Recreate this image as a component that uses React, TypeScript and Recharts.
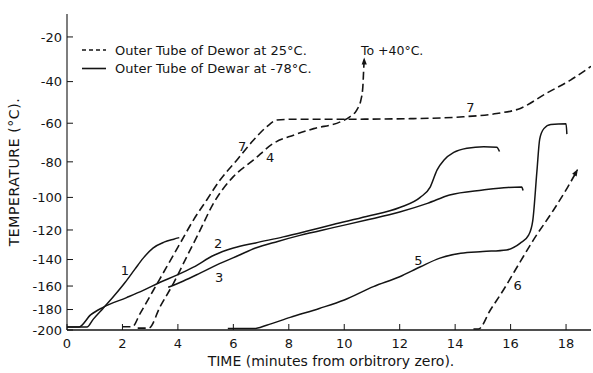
import React from 'react';
import { LineChart, Line, XAxis, YAxis, ReferenceDot } from 'recharts';

type Pt = [number, number];

// [time (min), temperature (°C)]
const curve1: Pt[] = [[0, -197], [0.72, -197], [0.95, -189], [1.3, -179], [1.7, -168], [2.1, -157], [2.45, -147], [2.75, -139], [3.1, -132], [3.5, -128], [3.85, -126], [4.05, -125]];
const curve2: Pt[] = [[0, -197], [0.42, -197], [0.85, -185], [1.3, -178], [2.15, -169.5], [2.75, -163.5], [3.36, -157], [3.96, -151.5], [4.56, -145.5], [5.3, -137], [6.0, -132], [6.8, -128.5], [7.8, -124.5], [8.6, -121], [9.6, -116.5], [10.8, -111.5], [12.0, -106], [12.74, -100], [13.1, -94], [13.35, -84.4], [13.6, -79], [13.95, -75], [14.43, -72.8], [15.03, -72], [15.5, -72.3], [15.6, -74.5]];
const curve3: Pt[] = [[3.65, -161], [4.2, -156], [4.8, -150], [5.5, -143], [6.2, -137], [6.8, -132], [7.6, -127.5], [8.4, -123.5], [9.6, -118.5], [10.8, -113.7], [12.0, -108.7], [13.0, -103.5], [13.8, -98.6], [15.0, -95.7], [15.9, -94.2], [16.4, -94], [16.45, -96]];
const curve4: Pt[] = [[2.55, -198], [2.95, -198], [3.36, -177.4], [3.84, -157.8], [4.32, -138], [4.75, -122], [5.3, -103], [6.0, -88.1], [6.73, -79], [7.45, -70.2], [8.17, -66], [8.9, -62.7], [9.86, -59.3], [10.2, -56.8], [10.45, -53.5], [10.6, -48.7], [10.67, -42.5], [10.7, -34.7], [10.72, -29.5]];
const curve5: Pt[] = [[5.8, -198.5], [6.75, -198.5], [7.2, -195], [8.05, -187.3], [9.1, -179], [10.0, -171.6], [11.05, -160.5], [12.0, -152.7], [12.75, -145.2], [13.45, -139], [14.2, -135.6], [15.0, -134.4], [15.85, -133.3], [16.35, -128.7], [16.65, -123.3], [16.8, -114], [16.95, -85], [17.05, -68], [17.2, -62.7], [17.45, -60.6], [18.0, -60.3], [18.03, -65.5]];
const curve6: Pt[] = [[14.66, -199], [14.84, -199], [15.27, -180.4], [15.74, -163.2], [16.35, -141.5], [16.82, -126.6], [17.55, -107.5], [18.05, -94.3], [18.41, -84.4]];
const curve7: Pt[] = [[2.0, -196.6], [2.35, -196.6], [2.64, -183.5], [3.12, -163.2], [3.6, -145.2], [4.08, -128.8], [4.56, -113.7], [5.04, -101.5], [5.52, -90], [6.13, -79], [6.73, -68.5], [7.21, -61.7], [7.57, -58.4], [8.17, -58], [9.13, -58], [10.1, -58], [12.5, -57.7], [14.3, -56.8], [15.5, -55.2], [16.35, -52.7], [17.3, -45.4], [18.16, -39.3], [18.9, -33]];

const xTicks = [0, 2, 4, 6, 8, 10, 12, 14, 16, 18];
const yTickTemps = [-200, -180, -160, -140, -120, -100, -80, -60, -40, -20];

const curveLabels = [
  { text: '1', t: 2.09, temp: -147.6 },
  { text: '2', t: 5.45, temp: -128.5 },
  { text: '3', t: 5.49, temp: -153 },
  { text: '4', t: 7.33, temp: -77.5 },
  { text: '7', t: 6.32, temp: -72 },
  { text: '7', t: 14.55, temp: -52 },
  { text: '5', t: 12.67, temp: -140.3 },
  { text: '6', t: 16.25, temp: -159.2 },
];
const noteText = 'To +40°C.';
const noteAt = { t: 10.6, temp: -25.7 };

const legendLabels = ['Outer Tube of Dewor at 25°C.', 'Outer Tube of Dewar at -78°C.'];
const xTitle = 'TIME (minutes from orbitrory zero).';
const yTitle = 'TEMPERATURE (°C).';

// Thermocouple-style (non-linear) temperature axis
const toY = (temp: number) => {
  const u = temp + 200;
  return 0.948 * u + 0.003778 * u * u;
};
const rows = (c: Pt[]) => c.map(([t, temp]) => ({ t, y: toY(temp) }));

const FONT = 'DejaVu Sans';
const INK = '#141414';

const series = [
  { key: 'c1', data: curve1, dashed: false, arrow: null as number | null },
  { key: 'c2', data: curve2, dashed: false, arrow: null },
  { key: 'c3', data: curve3, dashed: false, arrow: null },
  { key: 'c5', data: curve5, dashed: false, arrow: null },
  { key: 'c4', data: curve4, dashed: true, arrow: -90 },
  { key: 'c6', data: curve6, dashed: true, arrow: -59.5 },
  { key: 'c7', data: curve7, dashed: true, arrow: null },
];

const makeArrowDot = (angle: number, last: number) => (props: any) => {
  const { cx, cy, index } = props;
  if (index !== last) return <g key={`d${index}`} />;
  return (
    <path
      key={`d${index}`}
      transform={`translate(${cx},${cy}) rotate(${angle})`}
      d="M1,0 L-6,-2.6 L-6,2.6 Z"
      fill={INK}
      stroke="none"
    />
  );
};

const BottomTick = (props: any) => {
  const { x, y, payload } = props;
  return (
    <g>
      <line x1={x} x2={x} y1={y} y2={y - 6} stroke={INK} strokeWidth={1} />
      <text x={x} y={y + 17.5} textAnchor="middle" fontSize={13} fontFamily={FONT} fill={INK}>
        {payload.value}
      </text>
    </g>
  );
};

const TopTick = (props: any) => {
  const { x, y, payload } = props;
  if (payload.value === 0) return <g />;
  return (
    <g>
      <line x1={x} x2={x} y1={y} y2={y + 8} stroke="#333" strokeWidth={1} />
      <line x1={x - 3} x2={x + 3} y1={y + 0.5} y2={y + 0.5} stroke="#333" strokeWidth={1} />
    </g>
  );
};

const LeftTick = (props: any) => {
  const { x, y, payload } = props;
  const temp = yTickTemps.find((v) => Math.abs(toY(v) - payload.value) < 0.01);
  return (
    <g>
      <line x1={x} x2={x + 6} y1={y} y2={y} stroke={INK} strokeWidth={1} />
      <text x={x - 5} y={y + 4.7} textAnchor="end" fontSize={13} fontFamily={FONT} fill={INK}>
        {temp}
      </text>
    </g>
  );
};

const RightTick = (props: any) => {
  const { x, y, payload } = props;
  if (payload.value === 0) return <g />;
  return <line x1={x} x2={x - 7} y1={y} y2={y} stroke="#333" strokeWidth={1} />;
};

const LabelShape = (text: string, anchor: 'middle' | 'start' = 'middle', size = 13) => (props: any) => (
  <text x={props.cx} y={props.cy + 4.7} textAnchor={anchor} fontSize={size} fontFamily={FONT} fill={INK}>
    {text}
  </text>
);

export default function App() {
  const yTicks = yTickTemps.map(toY);
  return (
    <div style={{ position: 'absolute', left: 0, top: 0, width: 593, height: 373, background: '#fff' }}>
      <LineChart width={593} height={373} margin={{ top: 14, right: 2, bottom: 0, left: 0 }}>
        <XAxis
          xAxisId={0}
          type="number"
          dataKey="t"
          domain={[0, 18.9]}
          ticks={xTicks}
          allowDataOverflow
          height={43}
          tickSize={0}
          tickMargin={0}
          tickLine={false}
          axisLine={{ stroke: INK, strokeWidth: 1.3 }}
          tick={<BottomTick />}
          interval={0}
        />
        <XAxis
          xAxisId="top"
          orientation="top"
          type="number"
          domain={[0, 18.9]}
          ticks={xTicks}
          allowDataOverflow
          height={0}
          tickSize={0}
          tickMargin={0}
          tickLine={false}
          axisLine={{ stroke: '#666', strokeWidth: 1, strokeDasharray: '3 2' }}
          tick={<TopTick />}
          interval={0}
        />
        <YAxis
          yAxisId={0}
          type="number"
          domain={[0, 316]}
          ticks={yTicks}
          allowDataOverflow
          width={67}
          tickSize={0}
          tickMargin={0}
          tickLine={false}
          axisLine={{ stroke: INK, strokeWidth: 1.1 }}
          tick={<LeftTick />}
          interval={0}
        />
        <YAxis
          yAxisId="right"
          orientation="right"
          type="number"
          domain={[0, 316]}
          ticks={yTicks}
          allowDataOverflow
          width={0}
          tickSize={0}
          tickMargin={0}
          tickLine={false}
          axisLine={{ stroke: '#333', strokeWidth: 1 }}
          tick={<RightTick />}
          interval={0}
        />
        {series.map((s) => (
          <Line
            key={s.key}
            name={s.key}
            data={rows(s.data)}
            dataKey="y"
            type="monotone"
            stroke={INK}
            strokeWidth={s.dashed ? 1.6 : 1.5}
            strokeDasharray={s.dashed ? '8 4' : undefined}
            dot={s.arrow !== null ? makeArrowDot(s.arrow, s.data.length - 1) : false}
            activeDot={false}
            isAnimationActive={false}
          />
        ))}
        {curveLabels.map((l, i) => (
          <ReferenceDot key={`lab${i}`} x={l.t} y={toY(l.temp)} r={0} shape={LabelShape(l.text)} />
        ))}
        <ReferenceDot x={noteAt.t} y={toY(noteAt.temp)} r={0} shape={LabelShape(noteText, 'start', 12.5)} />
      </LineChart>
      <svg width={593} height={373} style={{ position: 'absolute', left: 0, top: 0, pointerEvents: 'none' }}>
        <line x1={82} x2={106} y1={50} y2={50} stroke={INK} strokeWidth={1.6} strokeDasharray="4 3" />
        <text x={115} y={54.7} fontSize={13} fontFamily={FONT} fill={INK}>{legendLabels[0]}</text>
        <line x1={82} x2={106} y1={68.5} y2={68.5} stroke={INK} strokeWidth={1.6} />
        <text x={115} y={73.2} fontSize={13} fontFamily={FONT} fill={INK}>{legendLabels[1]}</text>
        <text transform="translate(19,172) rotate(-90)" textAnchor="middle" fontSize={14} letterSpacing={0.6} fontFamily={FONT} fill={INK}>
          {yTitle}
        </text>
        <text x={331} y={365.5} textAnchor="middle" fontSize={14} fontFamily={FONT} fill={INK}>
          {xTitle}
        </text>
      </svg>
    </div>
  );
}
